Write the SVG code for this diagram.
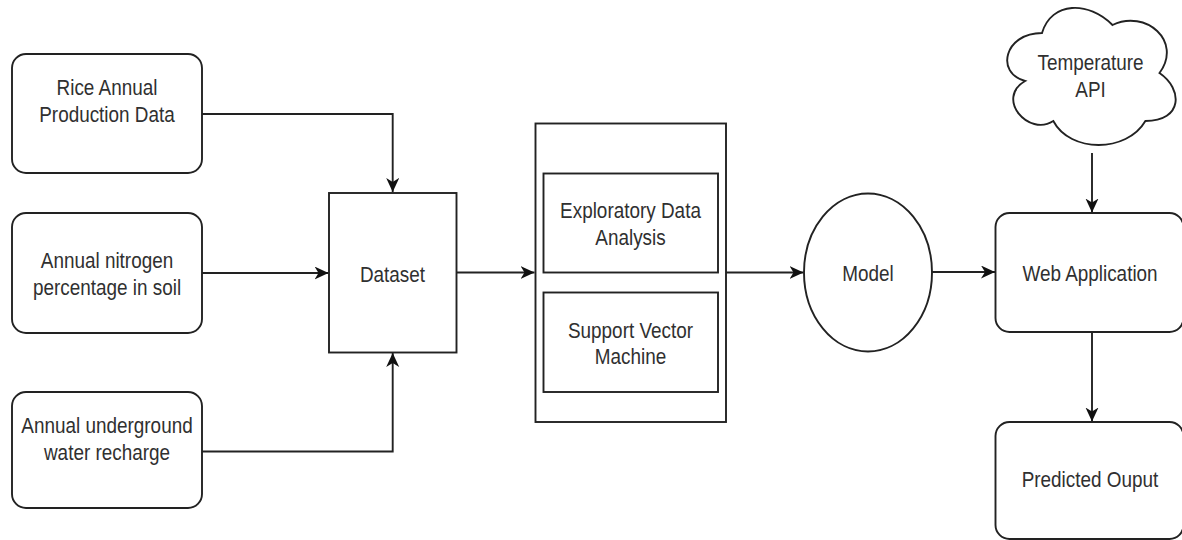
<svg xmlns="http://www.w3.org/2000/svg" width="1182" height="540" viewBox="0 0 1182 540">
  <style>
    .box { fill: #ffffff; stroke: #222222; stroke-width: 1.9; }
    .lbl { font-family: "Liberation Sans", Arial, sans-serif; font-size: 22px; fill: #303030; text-anchor: middle; }
    .edge { fill: none; stroke: #222222; stroke-width: 1.9; marker-end: url(#arrow); }
  </style>
  <defs>
    <marker id="arrow" markerUnits="userSpaceOnUse" markerWidth="17" markerHeight="15" refX="14" refY="6.5" orient="auto">
      <path d="M0,0 L14,6.5 L0,13 L4,6.5 Z" fill="#111111"/>
    </marker>
  </defs>
  <rect width="1182" height="540" fill="#ffffff"/>

  <g id="connectors">
    <path class="edge" d="M202,114 H392.7 V192"/>
    <path class="edge" d="M202,273 H328.5"/>
    <path class="edge" d="M202,451.5 H392.7 V353"/>
    <path class="edge" d="M456.5,272.5 H534.5"/>
    <path class="edge" d="M726,272.5 H803.5"/>
    <path class="edge" d="M932,272 H995"/>
    <path class="edge" d="M1092,153 V212.5"/>
    <path class="edge" d="M1092,332 V421.5"/>
  </g>

  <g id="rice">
    <rect class="box" x="12" y="54" width="190" height="119" rx="14"/>
    <text class="lbl" transform="matrix(0.86 0 0 1 107 95)">Rice Annual</text>
    <text class="lbl" transform="matrix(0.86 0 0 1 107 122)">Production Data</text>
  </g>

  <g id="nitrogen">
    <rect class="box" x="12" y="213" width="190" height="120" rx="14"/>
    <text class="lbl" transform="matrix(0.86 0 0 1 107 268)">Annual nitrogen</text>
    <text class="lbl" transform="matrix(0.86 0 0 1 107 295)">percentage in soil</text>
  </g>

  <g id="water">
    <rect class="box" x="12" y="392" width="190" height="116" rx="14"/>
    <text class="lbl" transform="matrix(0.86 0 0 1 107 433)">Annual underground</text>
    <text class="lbl" transform="matrix(0.86 0 0 1 107 460)">water recharge</text>
  </g>

  <g id="dataset">
    <rect class="box" x="329" y="193" width="127.5" height="159.5"/>
    <text class="lbl" transform="matrix(0.86 0 0 1 392.5 281.5)">Dataset</text>
  </g>

  <g id="processing">
    <rect class="box" x="535.5" y="123.5" width="190.5" height="298.5"/>
    <g id="eda">
      <rect class="box" x="543.5" y="173.5" width="174.5" height="99"/>
      <text class="lbl" transform="matrix(0.86 0 0 1 630.5 217.5)">Exploratory Data</text>
      <text class="lbl" transform="matrix(0.86 0 0 1 630.5 245)">Analysis</text>
    </g>
    <g id="svm">
      <rect class="box" x="543.5" y="292.5" width="174.5" height="99.5"/>
      <text class="lbl" transform="matrix(0.86 0 0 1 630.5 337.5)">Support Vector</text>
      <text class="lbl" transform="matrix(0.86 0 0 1 630.5 364)">Machine</text>
    </g>
  </g>

  <g id="model">
    <ellipse class="box" cx="868" cy="272.5" rx="64" ry="79"/>
    <text class="lbl" transform="matrix(0.86 0 0 1 868 280.5)">Model</text>
  </g>

  <g id="temperature-api">
    <path class="box" d="M1042,33 C1004.4,33 995,73 1025.1,81 C995,98.6 1028.8,137 1053.3,121 C1070.2,153 1126.6,153 1145.4,121 C1183,121 1183,89 1159.5,73 C1183,41 1145.4,9 1112.5,25 C1089,1 1051.4,1 1042,33 Z"/>
    <text class="lbl" transform="matrix(0.86 0 0 1 1090.5 70)">Temperature</text>
    <text class="lbl" transform="matrix(0.86 0 0 1 1090.5 97)">API</text>
  </g>

  <g id="web-app">
    <rect class="box" x="995.5" y="213" width="188" height="119" rx="14"/>
    <text class="lbl" transform="matrix(0.86 0 0 1 1090 280.5)">Web Application</text>
  </g>

  <g id="predicted">
    <rect class="box" x="995.5" y="422" width="188" height="117" rx="14"/>
    <text class="lbl" transform="matrix(0.86 0 0 1 1090 487)">Predicted Ouput</text>
  </g>
</svg>
